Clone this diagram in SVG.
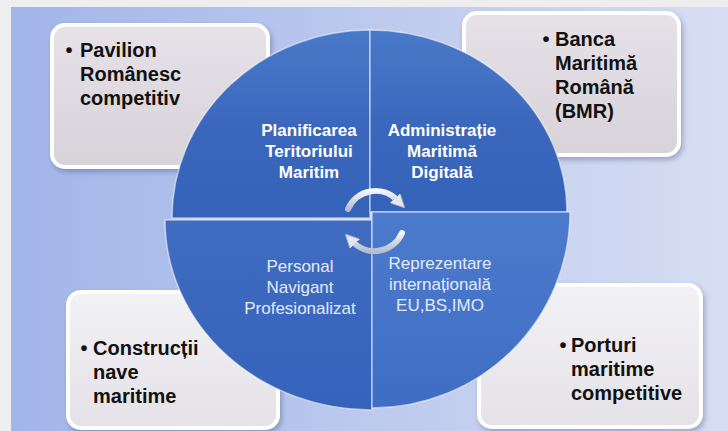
<svg xmlns="http://www.w3.org/2000/svg" width="728" height="431" viewBox="0 0 728 431">
<defs>
<linearGradient id="bg" x1="0" y1="0" x2="1" y2="0">
<stop offset="0" stop-color="#a2b5e9"/>
<stop offset="1" stop-color="#d7def3"/>
</linearGradient>
<linearGradient id="boxA" x1="0" y1="0" x2="0" y2="1">
<stop offset="0" stop-color="#e6e2e8"/>
<stop offset="1" stop-color="#d8d2d9"/>
</linearGradient>
<linearGradient id="boxB" x1="0" y1="0" x2="0" y2="1">
<stop offset="0" stop-color="#f2f1f4"/>
<stop offset="1" stop-color="#e4e2e7"/>
</linearGradient>
<linearGradient id="qTop" x1="0" y1="0" x2="0" y2="1">
<stop offset="0" stop-color="#4a79c9"/>
<stop offset="0.5" stop-color="#3b68bd"/>
<stop offset="1" stop-color="#3462b8"/>
</linearGradient>
<linearGradient id="qBL" x1="0" y1="0" x2="0" y2="1">
<stop offset="0" stop-color="#3f6cc0"/>
<stop offset="1" stop-color="#3563bb"/>
</linearGradient>
<linearGradient id="qBR" x1="0" y1="0" x2="0" y2="1">
<stop offset="0" stop-color="#4c7bcd"/>
<stop offset="1" stop-color="#3f6dc3"/>
</linearGradient>
<linearGradient id="arr" x1="0" y1="0" x2="0" y2="1">
<stop offset="0" stop-color="#f4f6fb"/>
<stop offset="1" stop-color="#b6bdd2"/>
</linearGradient>
<filter id="sh" x="-10%" y="-10%" width="125%" height="130%">
<feDropShadow dx="2" dy="3" stdDeviation="2.5" flood-color="#1a2a50" flood-opacity="0.3"/>
</filter>
<marker id="ah" viewBox="0 0 10 10" refX="2" refY="5" markerWidth="14" markerHeight="14" markerUnits="userSpaceOnUse" orient="auto">
<path d="M0,0 L10,5 L0,10 Z" fill="#e2e6f0" stroke="#9aa3bd" stroke-width="0.6"/>
</marker>
</defs>
<style>
.box{stroke:#ffffff;stroke-width:4;filter:url(#sh)}
.bt{font-family:"Liberation Sans",Arial,sans-serif;font-weight:bold;font-size:20px;fill:#111111}
.qt{font-family:"Liberation Sans",Arial,sans-serif;font-size:17px;text-anchor:middle}
.qb{font-weight:bold;fill:#ffffff}
.qr{fill:#e4eaf7}
.q{stroke:#ffffff;stroke-opacity:0.55;stroke-width:1.5}
.ar{fill:none;stroke:url(#arr);stroke-width:6;stroke-linecap:round}
</style>
<rect x="0" y="0" width="728" height="431" fill="#eeeeee"/>
<rect x="11" y="7" width="717" height="424" fill="url(#bg)"/>

<g id="node-pavilion">
<rect class="box" x="52" y="25" width="216" height="142" rx="13" fill="url(#boxA)"/>
<text class="bt" x="69" y="57" text-anchor="middle">•</text>
<text class="bt"><tspan x="80" y="57">Pavilion</tspan><tspan x="80" y="81">Românesc</tspan><tspan x="80" y="105">competitiv</tspan></text>
</g>
<g id="node-banca">
<rect class="box" x="464" y="13" width="215" height="142" rx="13" fill="url(#boxA)"/>
<text class="bt" x="546" y="46" text-anchor="middle">•</text>
<text class="bt"><tspan x="555" y="46">Banca</tspan><tspan x="555" y="70">Maritimă</tspan><tspan x="555" y="94">Română</tspan><tspan x="555" y="118">(BMR)</tspan></text>
</g>
<g id="node-constructii">
<rect class="box" x="68" y="292" width="210" height="136" rx="13" fill="url(#boxB)"/>
<text class="bt" x="84" y="355" text-anchor="middle">•</text>
<text class="bt"><tspan x="93" y="355">Construcții</tspan><tspan x="93" y="379">nave</tspan><tspan x="93" y="403">maritime</tspan></text>
</g>
<g id="node-porturi">
<rect class="box" x="479" y="285" width="222" height="142" rx="13" fill="url(#boxB)"/>
<text class="bt" x="563" y="352" text-anchor="middle">•</text>
<text class="bt"><tspan x="571" y="352">Porturi</tspan><tspan x="571" y="376">maritime</tspan><tspan x="571" y="400">competitive</tspan></text>
</g>

<g id="node-planificarea">
<path class="q" d="M370 218 L172 218 A198 188 0 0 1 370 30 Z" fill="url(#qTop)"/>
<text class="qt qb"><tspan x="309" y="136">Planificarea</tspan><tspan x="309" y="157">Teritoriului</tspan><tspan x="309" y="178">Maritim</tspan></text>
</g>
<g id="node-administratie">
<path class="q" d="M370 212 L370 30 A197 182 0 0 1 567 212 Z" fill="url(#qTop)"/>
<text class="qt qb"><tspan x="442" y="136">Administrație</tspan><tspan x="442" y="157">Maritimă</tspan><tspan x="442" y="178">Digitală</tspan></text>
</g>
<g id="node-personal">
<path class="q" d="M372 220 L165 220 A207 190 0 0 0 372 410 Z" fill="url(#qBL)"/>
<text class="qt qr"><tspan x="300" y="272">Personal</tspan><tspan x="300" y="293">Navigant</tspan><tspan x="300" y="314">Profesionalizat</tspan></text>
</g>
<g id="node-reprezentare">
<path class="q" d="M372 212 L570 212 A198 196 0 0 1 372 408 Z" fill="url(#qBR)"/>
<text class="qt qr"><tspan x="440" y="269">Reprezentare</tspan><tspan x="440" y="290">internațională</tspan><tspan x="440" y="311">EU,BS,IMO</tspan></text>
</g>

<g id="connectors">
<path class="ar" d="M348 209 A30 30 0 0 1 397 200" marker-end="url(#ah)"/>
<path class="ar" d="M402 233 A30 30 0 0 1 353 242" marker-end="url(#ah)"/>
</g>
</svg>
